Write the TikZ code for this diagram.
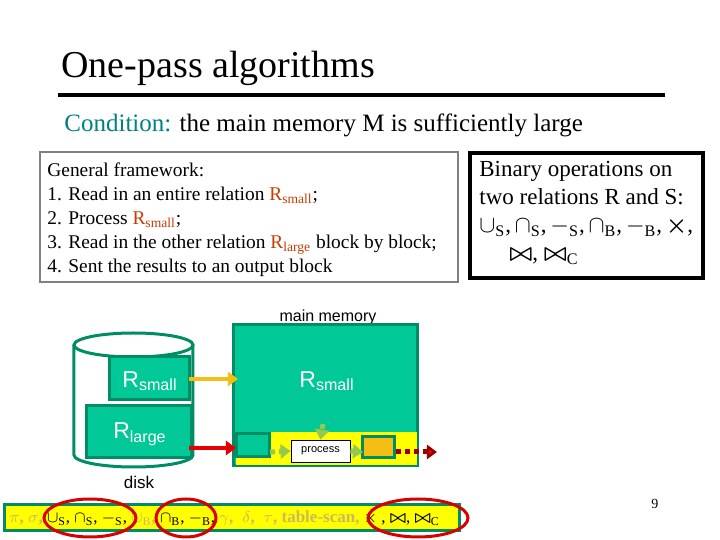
\documentclass[tikz,border=0pt]{standalone}
\usepackage{fontspec}
\setmainfont{Liberation Serif}
\setsansfont{Liberation Sans}
\usetikzlibrary{arrows.meta}
\definecolor{teal1}{RGB}{0,128,128}
\definecolor{mgreen}{RGB}{0,200,150}
\definecolor{dgreen}{RGB}{0,140,100}
\definecolor{rbrown}{RGB}{200,60,0}
\definecolor{myel}{RGB}{255,255,0}
\definecolor{khaki}{RGB}{205,185,90}
\definecolor{lgreen}{RGB}{150,200,80}
\definecolor{aorange}{RGB}{245,190,20}
\newcommand{\bj}{\mbox{\boldmath$\bowtie$}}
\newcommand{\bx}{\mbox{\boldmath$\times$}}
\tikzset{
  blk/.style={draw=dgreen,line width=1.5pt,fill=mgreen},
  lbl/.style={font=\sffamily,inner sep=0pt},
  big/.style={lbl,text=white,font=\sffamily\fontsize{11.5}{13}\selectfont},
  oval/.style={draw=red!85!black,line width=1.5pt},
  dots/.style={line width=2.5pt,dash pattern=on 2.5pt off 2pt,-{Triangle[length=5pt,width=7pt]}}
}
\begin{document}
\begin{tikzpicture}[x=0.5pt,y=-0.5pt]
\useasboundingbox (0,0) rectangle (720,540);
% title
\node[anchor=base west,inner sep=0pt,font=\fontsize{19}{22}\selectfont] (title) at (61,78) {One-pass algorithms};
\draw[line width=2pt] (58,95) -- (665,95);
\node[anchor=base west,inner sep=0pt,font=\fontsize{12.5}{15}\selectfont] (cond) at (64,132)
  {\textcolor{teal1}{Condition:} the main memory M is sufficiently large};
% left text box
\draw[gray,line width=0.8pt] (40,152) rectangle (458,282);
\node[anchor=north west,align=left,inner sep=0pt,font=\fontsize{9.7}{12}\selectfont] (gen) at (47,162)
  {General framework:\\
   1. Read in an entire relation \textcolor{rbrown}{R\textsubscript{small}};\\
   2. Process \textcolor{rbrown}{R\textsubscript{small}};\\
   3. Read in the other relation \textcolor{rbrown}{R\textsubscript{large}} block by block;\\
   4. Sent the results to an output block};
% right box
\draw[line width=2pt] (470,153) rectangle (703,278);
\node[anchor=north west,align=left,inner sep=0pt,font=\fontsize{11.5}{14}\selectfont] (bin) at (479,161)
  {Binary operations on\\two relations R and S:\\
   $\cup_{\mathrm{S}}$,\,$\cap_{\mathrm{S}}$,\,$-_{\mathrm{S}}$,\,$\cap_{\mathrm{B}}$,\,$-_{\mathrm{B}}$,\,\bx,\\
   \hspace*{1.3em}\bj, \bj$_{\mathrm{C}}$};
% disk cylinder
\draw[dgreen,line width=1.5pt,fill=white] (74,345) -- (74,455) arc[start angle=180,end angle=0,x radius=59.5,y radius=12] -- (193,345);
\draw[dgreen,line width=1.5pt,fill=white] (133.5,345) ellipse[x radius=59.5,y radius=12];
\draw[blk] (110,357) rectangle (190,400);
\node[big] (rs1) at (150,381) {R\textsubscript{small}};
\draw[blk] (87,406) rectangle (192,458);
\node[big] (rl) at (140,434) {R\textsubscript{large}};
\node[lbl,font=\sffamily\fontsize{8.5}{10}\selectfont] (disk) at (139,482) {disk};
\coordinate (ys) at (189,379);
\coordinate (rs) at (189,448);
% main memory
\node[lbl,font=\sffamily\fontsize{8}{10}\selectfont] (mm) at (328,317) {main memory};
\draw[blk] (234,325) rectangle (418,466);
\fill[myel] (236,432) rectangle (417,465);
\node[big] (rs2) at (327,381) {R\textsubscript{small}};
\draw[blk] (237,434) rectangle (270,457);
\node[draw,fill=white,minimum width=29.5pt,minimum height=11pt,inner sep=0pt,font=\sffamily\fontsize{5.5}{6}\selectfont] (proc) at (320.5,451) {process};
\draw[dgreen,line width=1.5pt,fill=aorange] (363,437) rectangle (395,458);
\coordinate (inb) at (270,452);
\coordinate (outb) at (363,452);
\coordinate (outr) at (396,452);
\coordinate (far) at (437,452);
\coordinate (top) at (323,424);
\draw[aorange,line width=2pt,-{Triangle[length=5pt,width=7pt]}] (ys) -- (238,379);
\draw[red!90!black,line width=2pt,-{Triangle[length=5pt,width=7pt]}] (rs) -- (236,448);
\draw[dots,lgreen] (inb) -- (proc.west);
\draw[dots,lgreen] (proc.east) -- (outb);
\draw[dots,lgreen] (top) -- (proc.north);
\draw[dots,red!60!black,-{Triangle[length=5pt,width=7pt,fill=red]}] (outr) -- (far);
% bottom strip
\draw[fill=myel,draw=dgreen,line width=1.5pt] (5,505) rectangle (460,531);
\node[anchor=base west,inner sep=0pt,text=khaki,font=\bfseries\fontsize{8.5}{10}\selectfont] (ops) at (9,523)
  {$\pi$, $\sigma$, \textcolor{black}{\normalfont$\cup_{\mathrm{S}}$, $\cap_{\mathrm{S}}$, $-_{\mathrm{S}}$,} $\cup_{\mathrm{B}}$, \textcolor{black}{\normalfont$\cap_{\mathrm{B}}$, $-_{\mathrm{B}}$,} $\gamma$,\; $\delta$,\; $\tau$, table-scan, \textcolor{black}{\normalfont$\times$ , \bj, \bj$_{\mathrm{C}}$}};
\draw[oval] (90,518) ellipse[x radius=46,y radius=19];
\draw[oval] (186,518) ellipse[x radius=30,y radius=19];
\draw[oval] (418,518) ellipse[x radius=50,y radius=19];
\node[inner sep=0pt,font=\fontsize{7}{8}\selectfont] (pg) at (655,504) {9};
\end{tikzpicture}
\end{document}
